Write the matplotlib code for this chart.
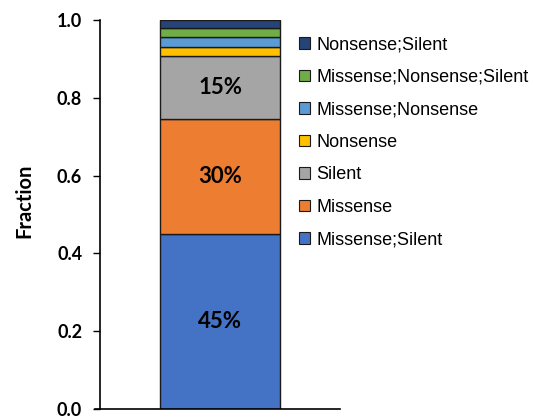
import matplotlib
matplotlib.use("Agg")
import matplotlib.pyplot as plt
from matplotlib.patches import Patch

# segment data, bottom to top
categories = ["Missense;Silent", "Missense", "Silent", "Nonsense",
              "Missense;Nonsense", "Missense;Nonsense;Silent", "Nonsense;Silent"]
fractions = [0.45, 0.295, 0.161, 0.024, 0.025, 0.024, 0.021]
labels = ["45%", "30%", "15%", "", "", "", ""]
colors = ["#4472C4", "#ED7D31", "#A5A5A5", "#FFC000",
          "#5B9BD5", "#70AD47", "#264478"]
yticks = [0.0, 0.2, 0.4, 0.6, 0.8, 1.0]

fig = plt.figure(figsize=(5.33, 4.18), dpi=100)
ax = fig.add_axes([0.188, 0.0215, 0.450, 0.931])

bottom = 0.0
for cat, val, lab, col in zip(categories, fractions, labels, colors):
    ax.bar(0, val, width=1.0, bottom=bottom, color=col,
           edgecolor="#1a1a1a", linewidth=1.0)
    if lab:
        ax.text(0, bottom + val / 2, lab, ha="center", va="center",
                fontsize=16, fontweight="bold", family="Lato")
    bottom += val

ax.set_xlim(-1, 1)
ax.set_ylim(0, 1.0)
ax.set_xticks([])
ax.set_yticks(yticks)
ax.set_yticklabels([f"{t:.1f}" for t in yticks], fontsize=13,
                   fontweight="bold", family="Lato")
ax.tick_params(axis="y", direction="out", length=5, width=1, pad=8)
for side in ["top", "right"]:
    ax.spines[side].set_visible(False)
ax.spines["left"].set_linewidth(1.2)
ax.spines["bottom"].set_linewidth(1.2)
ax.spines["bottom"].set_bounds(-1.04, 1)
ax.set_ylabel("Fraction", fontsize=14.5, fontweight="bold", family="Lato")
ax.yaxis.set_label_coords(-0.275, 0.535)

handles = [Patch(facecolor=c, edgecolor="#1a1a1a", linewidth=0.8)
           for c in colors][::-1]
leg = fig.legend(handles, categories[::-1], loc="upper left",
                 bbox_to_anchor=(0.531, 0.952), frameon=False,
                 prop={"family": "Liberation Sans", "size": 13},
                 handlelength=0.6, handleheight=0.6, handletextpad=0.35,
                 labelspacing=0.86)

fig.savefig("out.png", dpi=100)
